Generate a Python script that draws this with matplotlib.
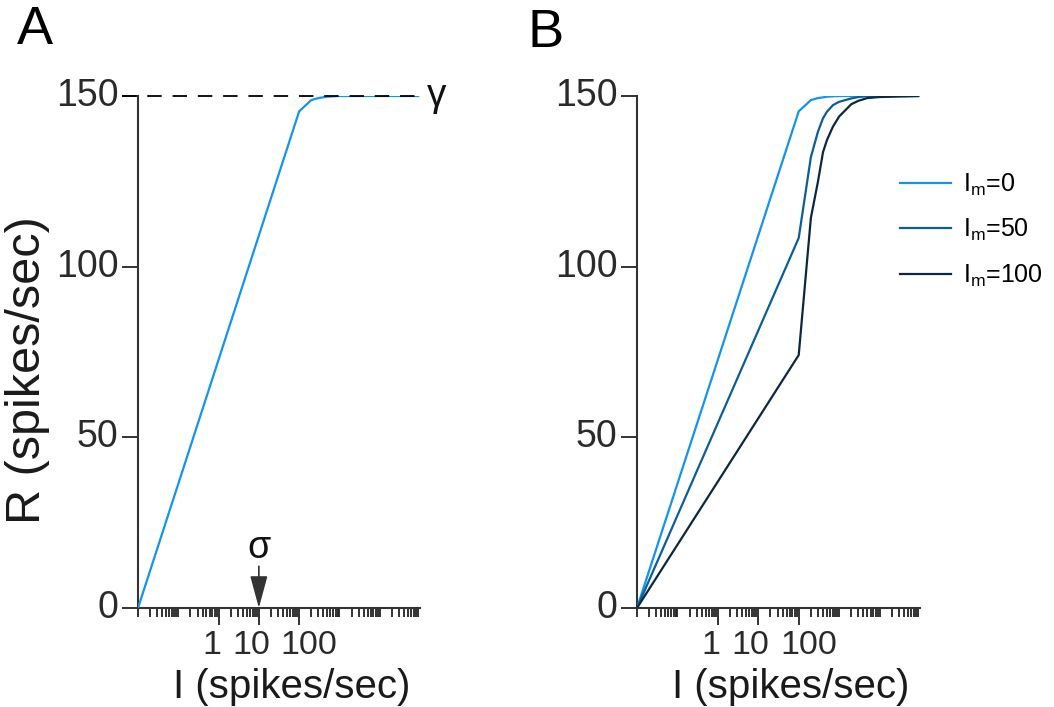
import numpy as np
import matplotlib
matplotlib.use('Agg')
import matplotlib.pyplot as plt
import matplotlib.transforms as mtransforms
from matplotlib.ticker import FixedLocator, NullFormatter, FixedFormatter

plt.rcParams['font.family'] = ['Liberation Sans', 'DejaVu Sans']
plt.rcParams['mathtext.fontset'] = 'custom'
plt.rcParams['mathtext.rm'] = 'Liberation Sans'
plt.rcParams['mathtext.it'] = 'Liberation Sans:italic'

# Panel A: single response curve
I_a = [0.01, 100, 200, 300, 500, 1000, 90000]
R_a = [0, 145.5, 148.8, 149.4, 149.8, 150, 150]

# Panel B: three masking levels
I_b = [0.01, 100, 200, 300, 400, 500, 700, 1000, 2000, 3000, 5000, 10000, 90000]
R_m0 = [0, 145.5, 148.8, 149.4, 149.6, 149.8, 149.9, 150, 150, 150, 150, 150, 150]
R_m50 = [0, 108.4, 132.1, 139.6, 143.5, 145.4, 147.3, 148.3, 149.3, 149.7, 150, 150, 150]
R_m100 = [0, 74.1, 114.3, 125.0, 133.6, 137.1, 141.0, 144.0, 147.6, 148.6, 149.4, 149.7, 150]
labels_b = ['I$_\\mathregular{m}$=0', 'I$_\\mathregular{m}$=50', 'I$_\\mathregular{m}$=100']

y_ticks = [0, 50, 100, 150]
x_major = [1, 10, 100]
x_major_labels = ['1', '10', '100']
x_label_shift_px = [-7, -8, 10]   # labels in the original sit off-centre

c_light = '#1294ef'
c_mid = '#0b5e98'
c_dark = '#0b2842'
axis_col = '#333333'

W, H = 1054, 707
fig = plt.figure(figsize=(W / 100, H / 100), dpi=100)


def setup_axes(ax):
    ax.set_xscale('log')
    ax.set_xlim(0.01, 1e5)
    ax.set_ylim(0, 150)
    for s in ['top', 'right']:
        ax.spines[s].set_visible(False)
    for s in ['left', 'bottom']:
        ax.spines[s].set_color(axis_col)
        ax.spines[s].set_linewidth(1.5)
    ax.set_yticks(y_ticks)
    ax.tick_params(axis='y', length=11.5, width=1.4, color=axis_col,
                   labelsize=27, labelcolor='#2a2a2a', pad=2.5)
    ax.xaxis.set_major_locator(FixedLocator(x_major))
    ax.xaxis.set_major_formatter(FixedFormatter(x_major_labels))
    minors = [m * 10.0 ** e for e in range(-2, 5) for m in range(1, 10)
              if not (m == 1 and e in (0, 1, 2))]
    ax.xaxis.set_minor_locator(FixedLocator(minors))
    ax.xaxis.set_minor_formatter(NullFormatter())
    ax.tick_params(axis='x', which='major', length=12, width=1.4, color=axis_col,
                   labelsize=24.5, labelcolor='#2a2a2a', pad=3.5)
    ax.tick_params(axis='x', which='minor', length=6.5, width=1.3, color='#222222')
    # raise y tick labels slightly like the original
    off = mtransforms.ScaledTranslation(0, 4 / 100, fig.dpi_scale_trans)
    for lab in ax.get_yticklabels():
        lab.set_transform(lab.get_transform() + off)
    for lab, dx in zip(ax.get_xticklabels(), x_label_shift_px):
        lab.set_transform(lab.get_transform() +
                          mtransforms.ScaledTranslation(dx / 100, 0, fig.dpi_scale_trans))
    ax.set_xlabel('I (spikes/sec)', fontsize=29, color='#1a1a1a', va='top')
    ax.xaxis.set_label_coords(0.544, -0.118)
    ax.set_facecolor('none')


# ---- Panel A
axA = fig.add_axes([138 / W, 1 - 608 / H, 282 / W, 512 / H])
setup_axes(axA)
axA.plot(I_a, R_a, color=c_light, lw=1.6, zorder=3)
axA.plot([-0.057, 0.993], [150, 150], color='black', lw=1.3, ls=(0, (8, 6)),
         transform=axA.get_yaxis_transform(), clip_on=False, zorder=4)
axA.text(1.025, 150, 'γ', transform=axA.get_yaxis_transform(), fontsize=28,
         ha='left', va='center', color='#111111')
axA.text(10, 17.6, 'σ', fontsize=27, ha='center', va='center', color='#111111')
axA.annotate('', xy=(10, 0), xytext=(10, 12.2),
             arrowprops=dict(arrowstyle='-|>,head_length=1.0,head_width=0.27',
                             mutation_scale=20, color=axis_col, lw=1.2,
                             shrinkA=0, shrinkB=0),
             annotation_clip=False)
axA.set_ylabel('R (spikes/sec)', fontsize=35, color='#1a1a1a')
axA.yaxis.set_label_coords(-0.312, 0.465)

# ---- Panel B
axB = fig.add_axes([637 / W, 1 - 608 / H, 283 / W, 512 / H])
setup_axes(axB)
axB.plot(I_b, R_m0, color=c_light, lw=1.6, label=labels_b[0], zorder=3)
axB.plot(I_b, R_m50, color=c_mid, lw=1.6, label=labels_b[1], zorder=3)
axB.plot(I_b, R_m100, color=c_dark, lw=1.6, label=labels_b[2], zorder=3)
axB.legend(loc='upper left', bbox_to_anchor=(900 / W, 1 - 172 / H),
           bbox_transform=fig.transFigure, frameon=False, fontsize=18,
           handlelength=2.04, handletextpad=0.48, labelspacing=0.76,
           borderpad=0, borderaxespad=0)

fig.text(17 / W, 1 - 5 / H, 'A', fontsize=39, ha='left', va='top')
fig.text(527 / W, 1 - 8 / H, 'B', fontsize=39, ha='left', va='top')

fig.savefig('out.png', dpi=100)
